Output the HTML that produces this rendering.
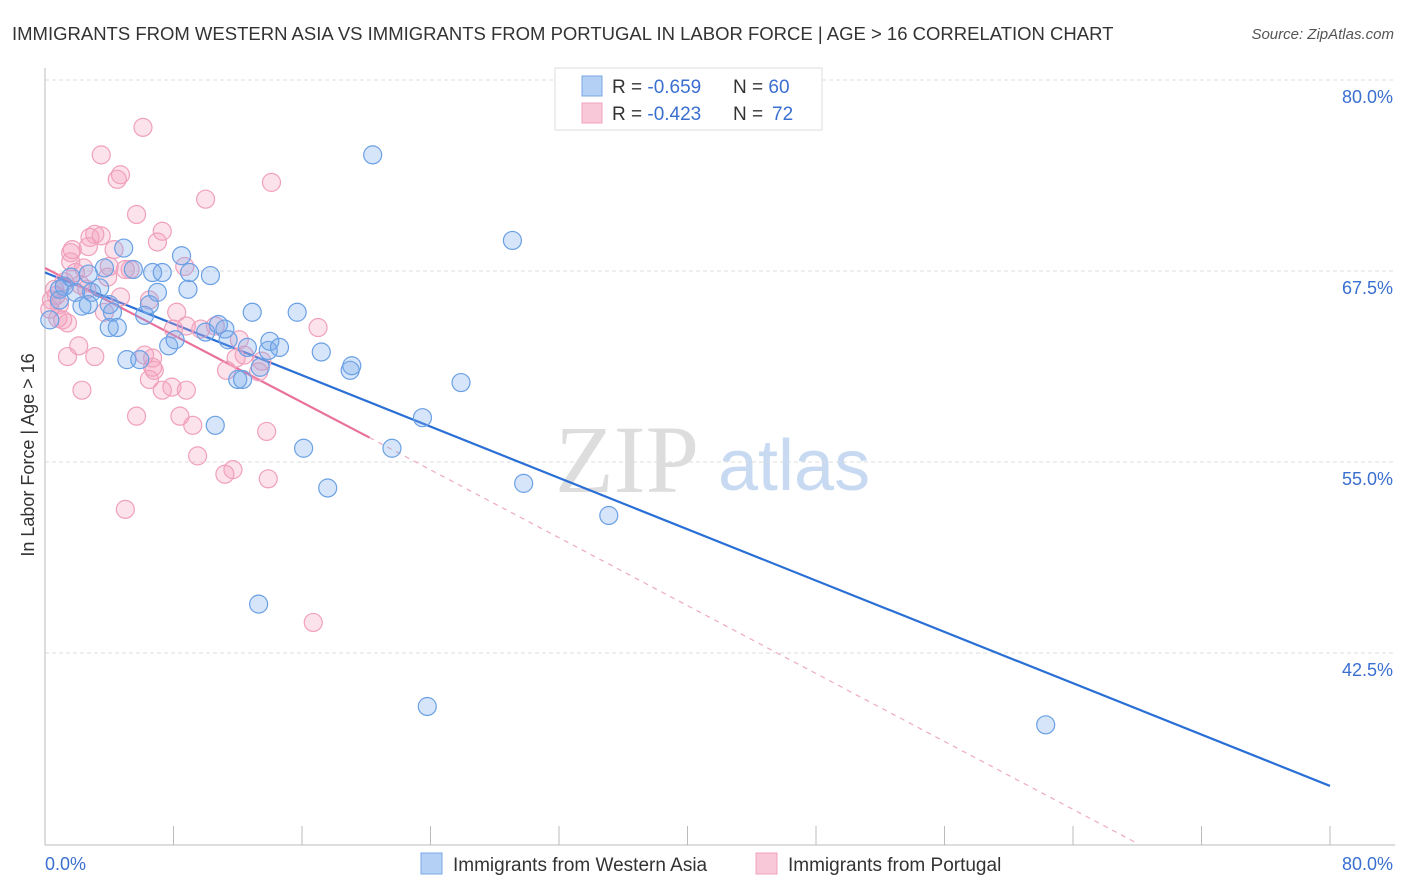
<!DOCTYPE html>
<html><head><meta charset="utf-8"><style>
body{margin:0;background:#fff;font-family:"Liberation Sans",sans-serif}
svg{display:block}
</style></head><body>
<svg id="c" width="1406" height="892" xmlns="http://www.w3.org/2000/svg">
<text x="12" y="40" font-size="18.5" fill="#333">IMMIGRANTS FROM WESTERN ASIA VS IMMIGRANTS FROM PORTUGAL IN LABOR FORCE | AGE &gt; 16 CORRELATION CHART</text>
<text x="1394" y="39" font-size="15" fill="#555" font-style="italic" text-anchor="end">Source: ZipAtlas.com</text>
<g>
<text x="555" y="492" font-size="96" font-family="Liberation Serif,serif" fill="#ddd">ZIP</text>
<text x="718" y="490" font-size="72" fill="#c8daf2">atlas</text>
</g>
<g id="grid"></g><g id="axes"></g><g id="lines"></g><g id="pts"></g>
<text transform="translate(34,455) rotate(-90)" font-size="18" fill="#333" text-anchor="middle">In Labor Force | Age &gt; 16</text>
<g>
<rect x="555" y="68" width="267" height="62" fill="#fff" stroke="#ddd"/>
<rect x="582" y="76" width="20" height="20" fill="#b4d0f4" stroke="#7aa8e6"/>
<rect x="582" y="103" width="20" height="20" fill="#f8c8d8" stroke="#f0a0bc"/>
<text y="93" font-size="19" fill="#333"><tspan x="612">R = </tspan><tspan fill="#3a6fd0">-0.659</tspan><tspan x="733">N = </tspan><tspan fill="#3a6fd0">60</tspan></text>
<text y="120" font-size="19" fill="#333"><tspan x="612">R = </tspan><tspan fill="#3a6fd0">-0.423</tspan><tspan x="733">N = </tspan><tspan x="772" fill="#3a6fd0">72</tspan></text>
</g>
<g>
<rect x="421" y="853" width="21" height="21" fill="#b4d0f4" stroke="#7aa8e6"/>
<text x="453" y="871" font-size="19" fill="#333">Immigrants from Western Asia</text>
<rect x="756" y="853" width="21" height="21" fill="#f8c8d8" stroke="#f0a0bc"/>
<text x="788" y="871" font-size="19" fill="#333">Immigrants from Portugal</text>
</g>
</svg>
<script>
const yTicks=[80,67.5,55,42.5];
const yTickLabels=["80.0%","67.5%","55.0%","42.5%"];
const xTicks=[0,8,16,24,32,40,48,56,64,72,80];
const xTickLabels=["0.0%","80.0%"];
const blueX=[0.3,0.9,1.2,1.6,1.9,2.3,2.7,2.9,3.4,3.7,4.2,4.0,4.5,4.9,5.1,5.5,5.9,6.2,6.7,6.5,7.0,7.3,7.7,8.1,8.5,8.9,9.0,10.0,10.3,10.6,10.8,11.2,11.4,12.0,12.3,12.6,12.9,13.4,13.3,13.9,14.0,14.6,15.7,16.1,17.2,17.6,19.0,19.1,20.4,21.6,23.5,23.8,25.9,29.1,29.8,35.1,62.3,0.9,4.0,2.7];
const blueY=[64.3,66.3,66.5,67.1,66.1,65.2,67.3,66.1,66.4,67.7,64.8,63.8,63.8,69.0,61.7,67.6,61.7,64.6,67.4,65.3,66.1,67.4,62.6,63.0,68.5,66.3,67.4,63.5,67.2,57.4,64.0,63.7,63.0,60.4,60.4,62.5,64.8,61.2,45.7,62.3,62.9,62.5,64.8,55.9,62.2,53.3,61.0,61.3,75.1,55.9,57.9,39.0,60.2,69.5,53.6,51.5,37.8,65.6,65.3,65.3];
const pinkX=[6.1,3.5,4.7,4.5,14.1,10.0,5.7,7.3,7.0,2.8,3.1,3.5,1.7,1.6,4.3,2.7,5.3,1.9,2.4,3.9,2.2,1.2,0.6,0.4,0.3,0.8,1.1,1.4,0.9,4.7,3.7,6.5,8.2,8.8,10.6,6.7,6.2,1.4,2.1,3.1,2.3,6.7,7.3,7.9,8.8,5.7,8.4,9.2,9.5,11.3,11.9,12.4,13.3,13.5,17.0,13.8,11.2,11.7,13.9,5.0,16.7,5.0,4.0,8.7,9.7,8.0,12.1,1.6,2.6,0.7,6.5,6.8];
const pinkY=[76.9,75.1,73.8,73.5,73.3,72.2,71.2,70.1,69.4,69.7,69.9,69.8,68.9,68.7,68.9,69.1,67.6,67.4,67.7,67.1,66.6,66.8,66.3,65.6,65.0,64.4,64.3,64.1,65.3,65.8,64.8,65.6,64.8,63.9,63.9,61.8,62.0,61.9,62.6,61.9,59.7,61.2,59.7,59.9,59.7,58.0,58.0,57.4,55.4,61.0,61.8,62.0,60.9,61.6,63.8,57.0,54.2,54.5,53.9,51.9,44.5,67.6,67.8,67.8,63.7,63.7,63.0,68.1,66.3,65.9,60.4,61.0];
const blueFit=[[0,67.4],[80,33.8]];
const pinkFitSolid=[[0,67.7],[20.2,56.6]];
const pinkFitDash=[[20.2,56.6],[67.9,30.1]];
const NS="http://www.w3.org/2000/svg";
const sx=v=>45+v*1285/80;
const sy=v=>80+(80-v)*191/12.5;
function mk(tag,attrs,parent){const e=document.createElementNS(NS,tag);for(const k in attrs)e.setAttribute(k,attrs[k]);document.getElementById(parent).appendChild(e);return e;}
yTicks.forEach((t,i)=>{
 const g=mk('line',{x1:45,x2:1395,y1:sy(t),y2:sy(t),stroke:'#ddd','stroke-dasharray':'4,3'},'grid');
 
 
 const l=mk('text',{x:1393,y:sy(t)+23,'font-size':18,fill:'#3a6fd0','text-anchor':'end'},'axes');
 l.textContent=yTickLabels[i];
 
 
});
const ax=mk('line',{x1:45,x2:1395,y1:845,y2:845,stroke:'#bbb'},'axes');


const ay=mk('line',{x1:45,x2:45,y1:68,y2:845,stroke:'#bbb'},'axes');


xTicks.forEach(t=>{
 const k=mk('line',{x1:sx(t),x2:sx(t),y1:826,y2:845,stroke:'#bbb'},'axes');
 
 
});
const xl0=mk('text',{x:45,y:870,'font-size':18,fill:'#3a6fd0'},'axes');
xl0.textContent=xTickLabels[0];


const xl1=mk('text',{x:1393,y:870,'font-size':18,fill:'#3a6fd0','text-anchor':'end'},'axes');
xl1.textContent=xTickLabels[1];


function pts(X,Y,fill,stroke,name){X.forEach((x,i)=>{
 const c=mk('circle',{cx:sx(x),cy:sy(Y[i]),r:9,fill:fill,stroke:stroke,'stroke-width':1.2},'pts');
 
 
});}
pts(pinkX,pinkY,'rgba(244,160,190,0.3)','#f0a0bc','point-portugal');
pts(blueX,blueY,'rgba(120,170,235,0.3)','#6aa0e4','point-western-asia');
function ln(p,stroke,w,dash,name){
 const a={x1:sx(p[0][0]),y1:sy(p[0][1]),x2:sx(p[1][0]),y2:sy(p[1][1]),stroke:stroke,'stroke-width':w};
 if(dash)a['stroke-dasharray']=dash;
 const e=mk('line',a,'lines');
 
 
}
ln(blueFit,'#2a6fd6',2.2,null,'trendline-western-asia');
ln(pinkFitSolid,'#e8709a',2.2,null,'trendline-portugal');
ln(pinkFitDash,'#eeaac0',1.2,'5,5','trendline-portugal-extrapolated');
</script>
</body></html>
